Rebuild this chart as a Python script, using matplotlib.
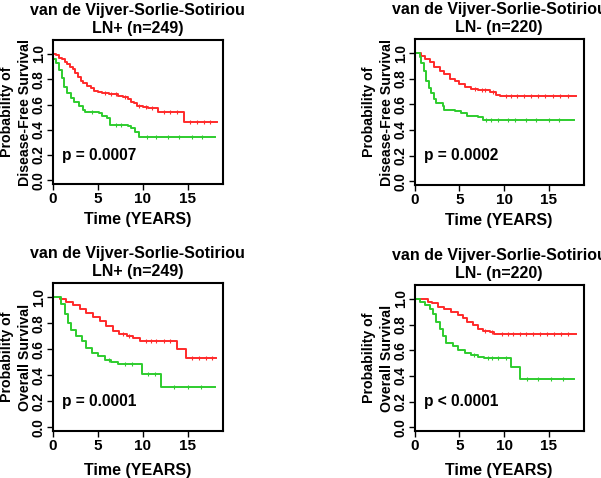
import numpy as np
import matplotlib
matplotlib.use('Agg')
import matplotlib.pyplot as plt

plt.rcParams['font.family'] = ['Liberation Sans', 'DejaVu Sans']
plt.rcParams['font.weight'] = 'bold'

STUDY = 'van de Vijver-Sorlie-Sotiriou'

# disease-free survival, LN+ (n=249)
dfs_pos_red_t = [0, 0.4, 0.7, 1.0, 1.3, 1.6, 1.9, 2.2, 2.5, 2.8, 3.1, 3.4, 3.8, 4.2,
                 4.6, 5.0, 5.5, 6.2, 7.2, 7.8, 8.3, 8.7, 9.0, 9.4, 10.0, 10.6, 11.7, 14.6]
dfs_pos_red_s = [1.0, 0.99, 0.97, 0.96, 0.94, 0.92, 0.90, 0.88, 0.85, 0.82, 0.79, 0.77,
                 0.75, 0.73, 0.71, 0.70, 0.69, 0.68, 0.67, 0.66, 0.64, 0.62, 0.61, 0.59,
                 0.58, 0.57, 0.54, 0.46]
dfs_pos_red_end = 18.2
dfs_pos_red_cens = [5.8, 6.5, 7.0, 8.0, 9.6, 10.3, 11.0, 12.3, 13.0, 13.8, 15.2, 16.0, 16.8, 17.5]
dfs_pos_grn_t = [0, 0.35, 0.67, 1.0, 1.2, 1.6, 2.0, 2.3, 2.9, 3.3, 3.6, 5.1, 5.5, 6.0,
                 6.4, 8.4, 8.7, 9.1, 9.6]
dfs_pos_grn_s = [0.96, 0.93, 0.875, 0.81, 0.74, 0.69, 0.65, 0.62, 0.585, 0.56, 0.54,
                 0.53, 0.51, 0.49, 0.44, 0.43, 0.41, 0.38, 0.34]
dfs_pos_grn_end = 18.0
dfs_pos_grn_cens = [4.4, 7.0, 7.6, 10.5, 11.5, 12.8, 14.0, 15.5, 16.6]

# disease-free survival, LN- (n=220)
dfs_neg_red_t = [0, 0.75, 1.1, 1.7, 2.2, 2.8, 3.3, 3.9, 4.5, 5.0, 5.6, 6.3, 7.1, 8.4,
                 9.1, 9.5]
dfs_neg_red_s = [1.0, 0.98, 0.955, 0.93, 0.89, 0.86, 0.84, 0.80, 0.78, 0.76, 0.735,
                 0.72, 0.71, 0.695, 0.67, 0.665]
dfs_neg_red_end = 18.1
dfs_neg_red_cens = [6.7, 7.5, 7.9, 8.8, 10.2, 10.8, 11.5, 12.2, 13.0, 13.8, 14.6, 15.5,
                    16.3, 17.2]
dfs_neg_grn_t = [0, 0.55, 0.75, 1.0, 1.3, 1.6, 1.85, 2.15, 2.4, 3.2, 3.3, 4.5, 5.2,
                 5.9, 7.1, 7.6]
dfs_neg_grn_s = [1.0, 0.97, 0.92, 0.86, 0.78, 0.73, 0.69, 0.64, 0.61, 0.585, 0.56,
                 0.545, 0.53, 0.51, 0.50, 0.48]
dfs_neg_grn_end = 17.8
dfs_neg_grn_cens = [8.0, 8.5, 9.3, 10.4, 11.2, 12.5, 13.6, 15.0, 16.2]

# overall survival, LN+ (n=249)
os_pos_red_t = [0, 0.75, 1.5, 2.2, 3.0, 3.7, 4.5, 5.2, 5.9, 6.7, 7.4, 8.2, 8.9, 9.7,
                13.8, 14.8]
os_pos_red_s = [1.0, 0.99, 0.96, 0.94, 0.91, 0.88, 0.85, 0.82, 0.78, 0.74, 0.72, 0.70,
                0.685, 0.66, 0.60, 0.53]
os_pos_red_end = 18.1
os_pos_red_cens = [7.8, 8.5, 10.3, 10.9, 11.5, 12.3, 13.0, 15.5, 16.2, 17.0, 17.7]
os_pos_grn_t = [0, 0.93, 1.3, 1.67, 2.0, 2.6, 3.2, 3.7, 4.3, 5.0, 5.8, 6.5, 7.2,
                9.85, 12.0]
os_pos_grn_s = [1.0, 0.95, 0.87, 0.80, 0.75, 0.70, 0.66, 0.61, 0.57, 0.55, 0.52,
                0.505, 0.487, 0.41, 0.31]
os_pos_grn_end = 18.0
os_pos_grn_cens = [6.2, 8.0, 8.8, 10.6, 11.3, 13.5, 15.0, 16.5]

# overall survival, LN- (n=220)
os_neg_red_t = [0, 1.5, 1.9, 2.6, 3.3, 4.1, 4.8, 5.4, 5.9, 6.5, 7.1, 7.6, 8.4, 8.9, 9.4]
os_neg_red_s = [1.0, 0.98, 0.965, 0.94, 0.925, 0.90, 0.875, 0.85, 0.82, 0.80, 0.77,
                0.75, 0.74, 0.73, 0.73]
os_neg_red_end = 18.1
os_neg_red_cens = [7.9, 8.7, 9.8, 10.4, 11.0, 11.8, 12.5, 13.2, 14.0, 14.8, 15.6, 16.4,
                   17.2]
os_neg_grn_t = [0, 0.55, 1.1, 1.7, 2.0, 2.4, 2.8, 3.2, 3.5, 4.3, 4.8, 5.6, 6.3, 7.1,
                7.8, 10.8, 11.8]
os_neg_grn_s = [1.0, 0.98, 0.955, 0.92, 0.885, 0.82, 0.765, 0.71, 0.66, 0.63, 0.605,
                0.58, 0.56, 0.55, 0.54, 0.47, 0.375]
os_neg_grn_end = 17.8
os_neg_grn_cens = [6.6, 8.2, 8.6, 9.3, 10.2, 12.6, 13.8, 15.2, 16.6]

panels = [
    ('LN+ (n=249)', 'Probability of\nDisease-Free Survival', 'p = 0.0007',
     (dfs_pos_red_t, dfs_pos_red_s, dfs_pos_red_end, dfs_pos_red_cens),
     (dfs_pos_grn_t, dfs_pos_grn_s, dfs_pos_grn_end, dfs_pos_grn_cens)),
    ('LN- (n=220)', 'Probability of\nDisease-Free Survival', 'p = 0.0002',
     (dfs_neg_red_t, dfs_neg_red_s, dfs_neg_red_end, dfs_neg_red_cens),
     (dfs_neg_grn_t, dfs_neg_grn_s, dfs_neg_grn_end, dfs_neg_grn_cens)),
    ('LN+ (n=249)', 'Probability of\nOverall Survival', 'p = 0.0001',
     (os_pos_red_t, os_pos_red_s, os_pos_red_end, os_pos_red_cens),
     (os_pos_grn_t, os_pos_grn_s, os_pos_grn_end, os_pos_grn_cens)),
    ('LN- (n=220)', 'Probability of\nOverall Survival', 'p < 0.0001',
     (os_neg_red_t, os_neg_red_s, os_neg_red_end, os_neg_red_cens),
     (os_neg_grn_t, os_neg_grn_s, os_neg_grn_end, os_neg_grn_cens)),
]

# axes boxes in figure fractions: left, bottom, width, height
boxes = [
    [0.088, 0.615, 0.283, 0.301],
    [0.690, 0.613, 0.281, 0.305],
    [0.088, 0.098, 0.283, 0.310],
    [0.690, 0.098, 0.281, 0.306],
]

RED = '#ff2a2a'
GREEN = '#2ecc2e'


def draw_km(ax, curve, color):
    t, s, end, cens = curve
    tt = list(t) + [end]
    ss = list(s) + [s[-1]]
    ax.step(tt, ss, where='post', color=color, lw=1.4)
    idx = np.searchsorted(t, cens, side='right') - 1
    ax.plot(cens, np.array(s)[idx], ls='none', marker='|', ms=3, mew=0.8, color=color)


fig = plt.figure(figsize=(6.01, 4.78), dpi=100)
for i, (sub, ylab, ptxt, red, grn) in enumerate(panels):
    ax = fig.add_axes(boxes[i])
    draw_km(ax, red, RED)
    draw_km(ax, grn, GREEN)
    ax.set_xlim(0, 18.9)
    ax.set_ylim(-0.03, 1.11)
    ax.set_xticks([0, 5, 10, 15])
    ax.set_yticks([0, 0.2, 0.4, 0.6, 0.8, 1.0])
    ax.set_yticklabels(['0.0', '0.2', '0.4', '0.6', '0.8', '1.0'], rotation=90,
                       va='center', fontsize=9.8, fontweight='bold')
    ax.set_xticklabels(['0', '5', '10', '15'], fontsize=11, fontweight='bold')
    ax.tick_params(direction='out', length=4, width=1)
    ax.tick_params(axis='y', pad=1)
    ax.tick_params(axis='x', pad=2)
    for sp in ax.spines.values():
        sp.set_linewidth(1.5)
    ax.set_title(STUDY + '\n' + sub, fontsize=11.5, fontweight='bold',
                 linespacing=1.25, pad=5)
    ax.set_ylabel(ylab, fontsize=10.2, fontweight='bold', linespacing=1.3)
    ax.yaxis.set_label_coords(-0.125, 0.5)
    ax.set_xlabel('Time (YEARS)', fontsize=11.5, fontweight='bold',
                  labelpad=4 if i < 2 else 6.5)
    ax.text(1.0, 0.2, ptxt, fontsize=11.2, fontweight='bold', va='center', ha='left')

fig.savefig('out.png', dpi=100)
